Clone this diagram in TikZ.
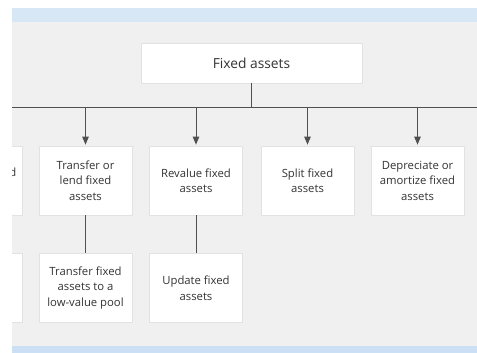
\documentclass[tikz,border=0pt]{standalone}
\usepackage{fontspec}
\setmainfont{Open Sans}
\usetikzlibrary{arrows.meta}
\definecolor{pagebg}{HTML}{F0F0F0}
\definecolor{bandtop}{HTML}{D8E7F5}
\definecolor{bandbot}{HTML}{CCE0F5}
\definecolor{boxline}{HTML}{E2E2E2}
\definecolor{wire}{HTML}{505050}
\definecolor{txt}{HTML}{333333}
\begin{document}
\begin{tikzpicture}[x=1pt,y=-1pt,
  box/.style={draw=boxline, fill=white, line width=0.7pt, minimum width=93pt,
    minimum height=69pt, align=center, inner sep=0pt, text=txt,
    font=\fontsize{11.3}{15.5}\selectfont},
  rootbox/.style={box, minimum width=221pt, minimum height=40pt,
    font=\fontsize{13.8}{15}\selectfont},
  link/.style={draw=wire, line width=0.9pt},
  arr/.style={link, -{Triangle[length=8pt,width=6.5pt]}}]
\useasboundingbox (0,0) rectangle (477,353);
\fill[white] (0,0) rectangle (477,353);
% window background and bands
\fill[pagebg] (12,22) rectangle (477,346);
\fill[bandtop] (12,8) rectangle (477,22);
\fill[bandbot] (12,346) rectangle (477,353);
\begin{scope}
\clip (12,22) rectangle (477,346);
% root
\node[rootbox] (root) at (251.5,63) {Fixed assets};
\coordinate (bus) at (251.5,107);
\coordinate (busL) at (12,107);
\coordinate (busR) at (477,107);
% second level
\node[box] (prev) at (-24.5,180.5) {};
\node[anchor=base east, text=txt, inner sep=0pt, font=\fontsize{11.3}{15.5}\selectfont] (prevtxt) at (16.5,176) {d};
\node[box] (transfer) at (85.5,180.5) {Transfer or\\lend fixed\\assets};
\node[box] (revalue) at (196,180.5) {Revalue fixed\\assets};
\node[box] (split) at (307.5,180.5) {Split fixed\\assets};
\node[box] (deprec) at (417.5,180.5) {Depreciate or\\amortize fixed\\assets};
% third level
\node[box] (prev2) at (-24.5,288) {};
\node[box] (lowpool) at (85.5,288) {Transfer fixed\\assets to a\\low-value pool};
\node[box] (update) at (196,288) {Update fixed\\assets};
% connectors
\draw[link] (root.south) -- (bus);
\draw[link] (busL) -- (busR);
\foreach \n in {transfer,revalue,split,deprec}
  \draw[arr] (\n.north |- bus) -- ([yshift=1pt]\n.north);
\draw[link] (transfer.south) -- (lowpool.north);
\draw[link] (revalue.south) -- (update.north);
\end{scope}
\end{tikzpicture}
\end{document}
